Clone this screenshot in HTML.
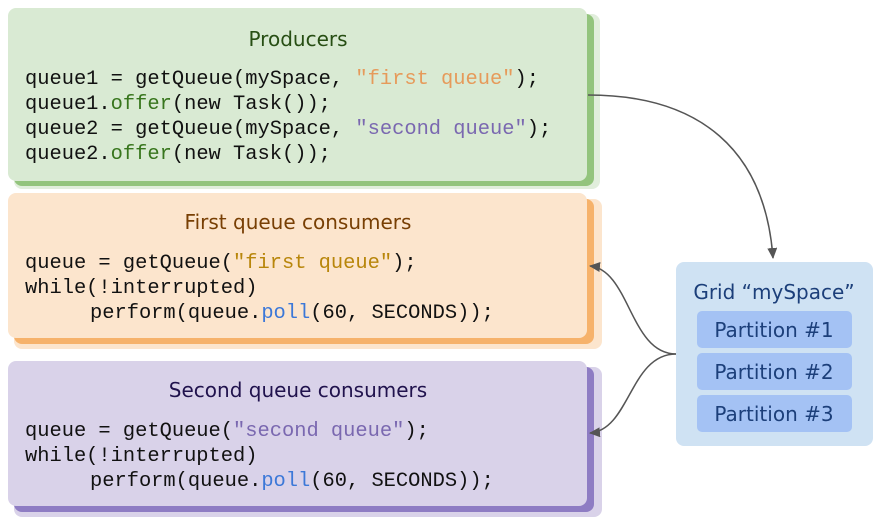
<!DOCTYPE html>
<html><head><meta charset="utf-8"><style>
html,body{margin:0;padding:0;background:#fff;}
svg{display:block}
.t{font-family:"DejaVu Sans","Liberation Sans",sans-serif;font-size:20px;}
.c{font-family:"Liberation Mono",monospace;font-size:20.4px;fill:#111;}
</style></head><body>
<svg width="885" height="527" viewBox="0 0 885 527" xmlns="http://www.w3.org/2000/svg">
<defs>
<marker id="a" markerWidth="12" markerHeight="12" refX="10" refY="5" orient="auto" markerUnits="userSpaceOnUse">
<path d="M0,0 L11,5 L0,10 z" fill="#555"/></marker>
</defs>
<rect x="14" y="14" width="586" height="175" rx="8" fill="#d9ead3" opacity="0.8"/>
<rect x="14" y="14" width="580" height="172" rx="8" fill="#93c47d"/>
<rect x="8" y="8" width="579" height="173" rx="8" fill="#d9ead3"/>
<text class="t" x="298" y="46" text-anchor="middle" fill="#274e13">Producers</text>
<text class="c" x="25" y="84">queue1 = getQueue(mySpace, <tspan fill="#e69a5a">"first queue"</tspan>);</text>
<text class="c" x="25" y="109">queue1.<tspan fill="#38761d">offer</tspan>(new Task());</text>
<text class="c" x="25" y="134">queue2 = getQueue(mySpace, <tspan fill="#7a68b0">"second queue"</tspan>);</text>
<text class="c" x="25" y="159">queue2.<tspan fill="#38761d">offer</tspan>(new Task());</text>
<rect x="14" y="199" width="588" height="150" rx="8" fill="#fce5cd"/>
<rect x="14" y="199" width="580" height="145" rx="8" fill="#f6b26b"/>
<rect x="8" y="193" width="579" height="145" rx="8" fill="#fce5cd"/>
<text class="t" x="298" y="229" text-anchor="middle" fill="#783f04">First queue consumers</text>
<text class="c" x="25" y="268">queue = getQueue(<tspan fill="#b8860b">"first queue"</tspan>);</text>
<text class="c" x="25" y="293">while(!interrupted)</text>
<text class="c" x="90" y="318">perform(queue.<tspan fill="#3c78d8">poll</tspan>(60, SECONDS));</text>
<rect x="14" y="367" width="588" height="150" rx="8" fill="#d9d2e9"/>
<rect x="14" y="367" width="580" height="145" rx="8" fill="#8e7cc3"/>
<rect x="8" y="361" width="579" height="145" rx="8" fill="#d9d2e9"/>
<text class="t" x="298" y="397" text-anchor="middle" fill="#20124d">Second queue consumers</text>
<text class="c" x="25" y="436">queue = getQueue(<tspan fill="#7a68b0">"second queue"</tspan>);</text>
<text class="c" x="25" y="461">while(!interrupted)</text>
<text class="c" x="90" y="486">perform(queue.<tspan fill="#3c78d8">poll</tspan>(60, SECONDS));</text>
<rect x="676" y="262" width="197" height="184" rx="8" fill="#cfe2f3"/>
<text class="t" x="774" y="299" text-anchor="middle" fill="#1c3f7a">Grid “mySpace”</text>
<rect x="697" y="311" width="155" height="37" rx="5" fill="#a4c2f4"/>
<text class="t" x="774" y="337" text-anchor="middle" fill="#1c3f7a">Partition #1</text>
<rect x="697" y="353" width="155" height="37" rx="5" fill="#a4c2f4"/>
<text class="t" x="774" y="379" text-anchor="middle" fill="#1c3f7a">Partition #2</text>
<rect x="697" y="395" width="155" height="37" rx="5" fill="#a4c2f4"/>
<text class="t" x="774" y="421" text-anchor="middle" fill="#1c3f7a">Partition #3</text>
<path d="M588,95 C700,95 765,150 773,258" fill="none" stroke="#555" stroke-width="1.5" marker-end="url(#a)"/>
<path d="M676,354 C630,354 630,270 590,266" fill="none" stroke="#555" stroke-width="1.5" marker-end="url(#a)"/>
<path d="M676,354 C630,354 630,430 590,433" fill="none" stroke="#555" stroke-width="1.5" marker-end="url(#a)"/>
</svg>
</body></html>
